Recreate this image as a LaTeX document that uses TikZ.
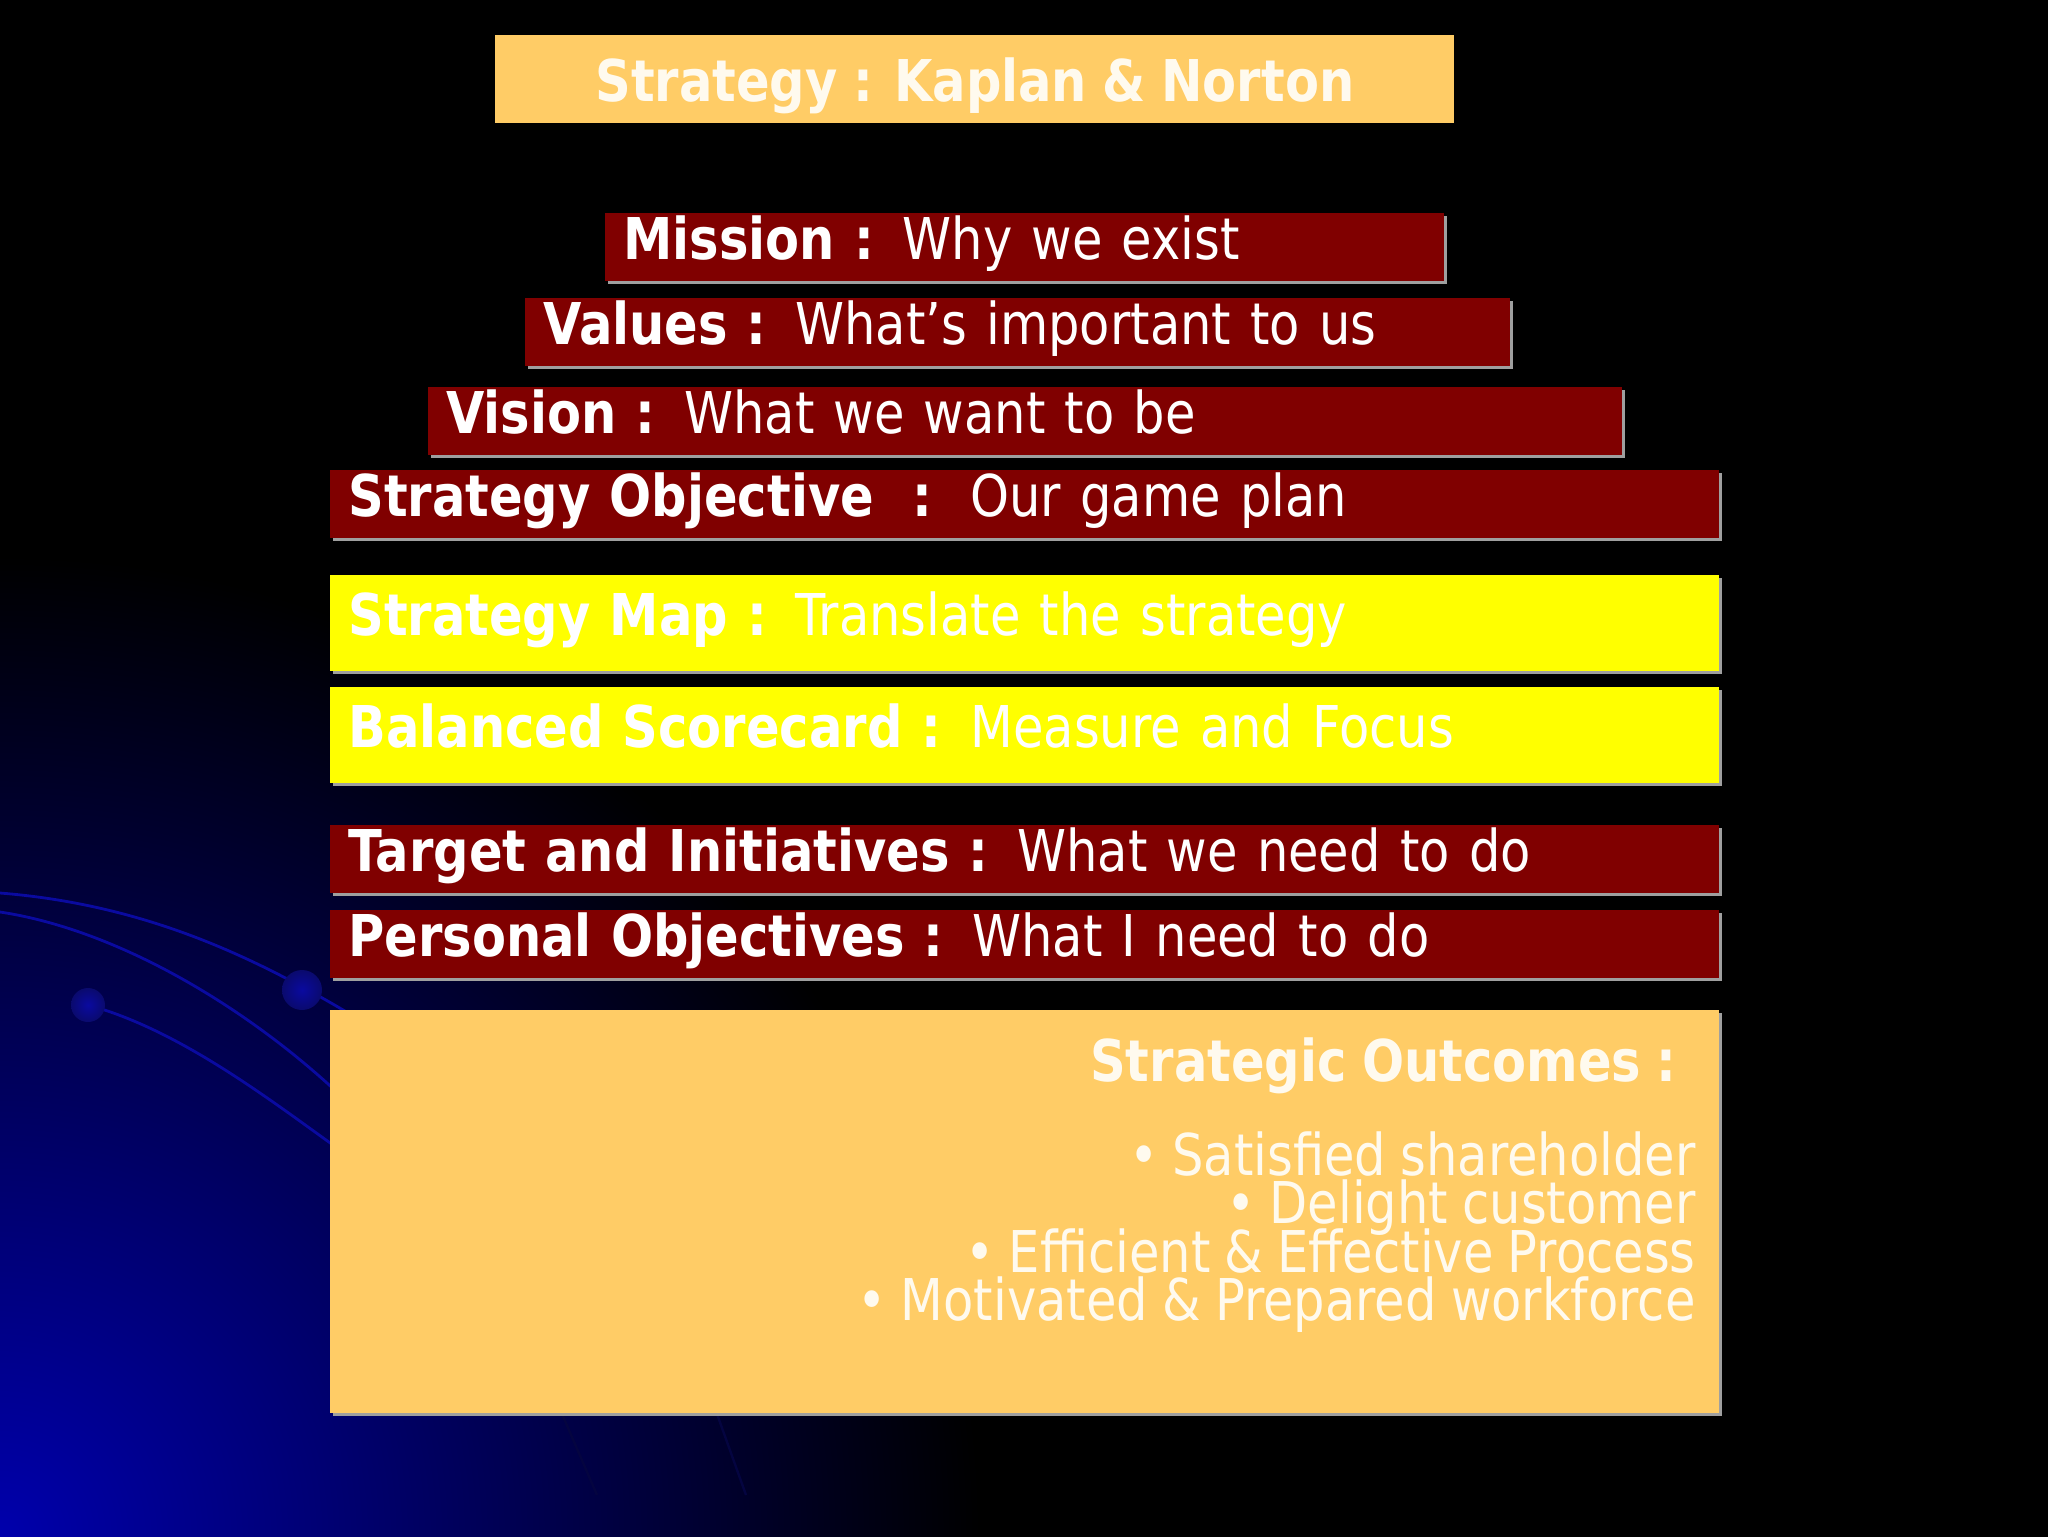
\documentclass[tikz,border=0pt]{standalone}
\usepackage{fontspec}
\setmainfont[FakeStretch=0.86,WordSpace=0.9]{DejaVu Sans}
\usetikzlibrary{shadows}
\definecolor{barred}{RGB}{128,0,0}
\definecolor{baryellow}{RGB}{255,255,0}
\definecolor{barsand}{RGB}{255,204,102}
\definecolor{cornerblue}{RGB}{0,0,172}
\definecolor{curveblue}{RGB}{10,10,160}
\definecolor{dotblue}{RGB}{10,10,110}
\definecolor{textcream}{RGB}{255,250,238}
\begin{document}
\begin{tikzpicture}[x=0.5pt,y=-0.5pt,
    bar/.style={anchor=north west, inner xsep=9pt, inner ysep=0pt, text width=#1,
      text height=21pt, text depth=9pt, align=left, text=white,
      font=\fontsize{28.8}{34}\selectfont,
      drop shadow={shadow xshift=1.5pt, shadow yshift=-1.5pt, fill=gray!75, opacity=1}},
    redbar/.style={bar=#1, fill=barred, minimum height=34pt},
    yellowbar/.style={bar=#1, fill=baryellow, minimum height=48pt},
    goal/.style={anchor=base east, inner sep=0pt, text=textcream,
      font=\fontsize{28.8}{34}\selectfont}]
    \useasboundingbox (0,0) rectangle (2048,1536);
    \fill[black] (-10,-10) rectangle (2058,1546);
    \begin{scope}
        \clip (-10,-10) rectangle (2058,1546);
        \shade[inner color=cornerblue, outer color=black] (0,1536) circle (980);
    \end{scope}
    \draw[curveblue, line width=1.4pt] (0,893) .. controls (150,905) and (260,960) .. (360,1020);
    \draw[curveblue, line width=1.4pt] (0,912) .. controls (120,930) and (250,1010) .. (340,1095);
    \draw[curveblue, line width=1.4pt] (88,1005) .. controls (180,1030) and (270,1100) .. (340,1150);
    \draw[curveblue!40!black, line width=1.2pt] (556,1400) -- (597,1495);
    \draw[curveblue!40!black, line width=1.2pt] (712,1400) -- (746,1495);
    \shade[inner color=curveblue, outer color=dotblue] (302,990) circle (20);
    \shade[inner color=curveblue, outer color=dotblue] (88,1005) circle (17);

    \node[anchor=north west, fill=barsand, minimum width=479.5pt, minimum height=44pt,
      inner sep=0pt, text height=22pt, text depth=0pt, text=textcream,
      font=\bfseries\fontsize{28.8}{34}\selectfont] (title) at (495,35) {Strategy : Kaplan \& Norton};

    \node[redbar=401.5pt] (mission) at (605,213) {\textbf{Mission :} Why we exist};
    \node[redbar=474.5pt] (values) at (525,298) {\textbf{Values :} What’s important to us};
    \node[redbar=579pt] (vision) at (428,387) {\textbf{Vision :} What we want to be};
    \node[redbar=676.5pt] (objective) at (330,470) {\textbf{Strategy Objective\ \ :}\ \ Our game plan};
    \node[yellowbar=676.5pt] (map) at (330,575) {\textbf{Strategy Map :} Translate the strategy};
    \node[yellowbar=676.5pt] (scorecard) at (330,687) {\textbf{Balanced Scorecard :} Measure and Focus};
    \node[redbar=676.5pt] (target) at (330,825) {\textbf{Target and Initiatives :} What we need to do};
    \node[redbar=676.5pt] (personal) at (330,910) {\textbf{Personal Objectives :} What I need to do};

    \node[anchor=north west, fill=barsand, minimum width=694.5pt, minimum height=201.5pt, inner sep=0pt,
      drop shadow={shadow xshift=1.5pt, shadow yshift=-1.5pt, fill=gray!75, opacity=1}] (outcomes) at (330,1010) {};
    \node[goal, font=\bfseries\fontsize{28.8}{34}\selectfont] (outhead) at (1677,1081) {Strategic Outcomes :};
    \foreach \txt [count=\i] in {Satisfied shareholder, Delight customer,
        Efficient \& Effective Process, Motivated \& Prepared workforce}
        \node[goal] (goal\i) at (1696,{1126.5+48.5*\i}) {• \txt};
\end{tikzpicture}
\end{document}
